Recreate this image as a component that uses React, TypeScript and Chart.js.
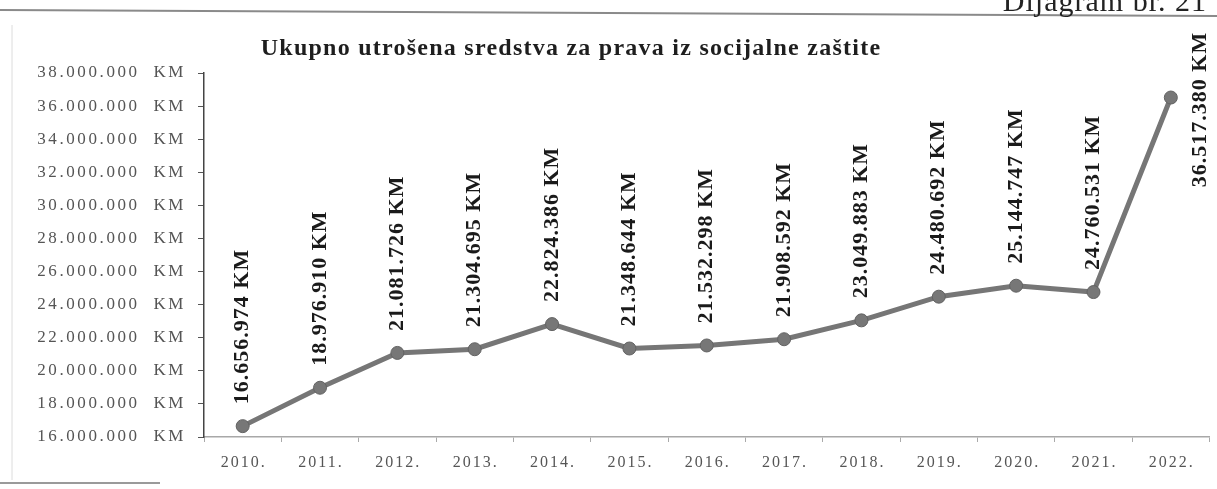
import React, { useEffect, useRef } from "react";
import { Chart, registerables } from "chart.js";

Chart.register(...registerables);

const years = ["2010.", "2011.", "2012.", "2013.", "2014.", "2015.", "2016.", "2017.", "2018.", "2019.", "2020.", "2021.", "2022."];
const amounts = [16656974, 18976910, 21081726, 21304695, 22824386, 21348644, 21532298, 21908592, 23049883, 24480692, 25144747, 24760531, 36517380];
const yTickValues = [16000000, 18000000, 20000000, 22000000, 24000000, 26000000, 28000000, 30000000, 32000000, 34000000, 36000000, 38000000];
const chartTitle = "Ukupno utrošena sredstva za prava iz socijalne zaštite";
const pageCaption = "Dijagram br. 21";
const currency = "KM";

const W = 1217;
const H = 489;

function fmt(n: number): string {
  return String(Math.round(n)).replace(/\B(?=(\d{3})+(?!\d))/g, ".");
}

const textPlugin = {
  id: "scanText",
  beforeDraw(chart: any) {
    const ctx = chart.ctx;
    ctx.save();
    ctx.fillStyle = "#ffffff";
    ctx.fillRect(0, 0, chart.width, chart.height);
    ctx.strokeStyle = "#8a8a8a";
    ctx.lineWidth = 2;
    ctx.beginPath();
    ctx.moveTo(0, 10);
    ctx.lineTo(chart.width, 16);
    ctx.stroke();
    ctx.strokeStyle = "#dcdcdc";
    ctx.lineWidth = 1;
    ctx.beginPath();
    ctx.moveTo(12, 25);
    ctx.lineTo(12, 480);
    ctx.stroke();
    ctx.strokeStyle = "#9a9a9a";
    ctx.lineWidth = 2;
    ctx.beginPath();
    ctx.moveTo(0, 483);
    ctx.lineTo(160, 483);
    ctx.stroke();
    ctx.restore();
  },
  afterDraw(chart: any) {
    const ctx = chart.ctx;
    const xs = chart.scales.x;
    const ys = chart.scales.y;
    const area = chart.chartArea;
    ctx.save();

    ctx.fillStyle = "#222";
    ctx.font = "30px 'Liberation Serif'";
    (ctx as any).letterSpacing = "1px";
    ctx.textAlign = "right";
    ctx.textBaseline = "alphabetic";
    ctx.fillText(pageCaption, chart.width - 10, 11);

    ctx.fillStyle = "#1e1e1e";
    ctx.font = "bold 24px 'Liberation Serif'";
    (ctx as any).letterSpacing = "1.25px";
    ctx.textAlign = "center";
    ctx.fillText(chartTitle, 571, 55);

    ctx.fillStyle = "#555";
    ctx.font = "17px 'Liberation Serif'";
    (ctx as any).letterSpacing = "2.6px";
    ctx.textAlign = "right";
    ctx.textBaseline = "middle";
    yTickValues.forEach((v) => {
      const y = ys.getPixelForValue(v);
      ctx.fillText(fmt(v) + "  " + currency, area.left - 18, y);
    });

    ctx.fillStyle = "#555";
    ctx.font = "16px 'Liberation Serif'";
    (ctx as any).letterSpacing = "2px";
    ctx.textAlign = "center";
    ctx.textBaseline = "middle";
    years.forEach((lab, i) => {
      const x = xs.getPixelForValue(i);
      ctx.fillText(lab, x + 1, area.bottom + 26);
    });

    ctx.fillStyle = "#1a1a1a";
    ctx.font = "bold 22px 'Liberation Serif'";
    (ctx as any).letterSpacing = "1px";
    ctx.textBaseline = "middle";
    const meta = chart.getDatasetMeta(0);
    meta.data.forEach((pt: any, i: number) => {
      const text = fmt(amounts[i]) + " " + currency;
      ctx.save();
      if (i === amounts.length - 1) {
        ctx.translate(pt.x + 29, pt.y + 12);
        ctx.rotate(-Math.PI / 2);
        ctx.textAlign = "center";
        ctx.fillText(text, 0, 0);
      } else {
        ctx.translate(pt.x, pt.y - 22);
        ctx.rotate(-Math.PI / 2);
        ctx.textAlign = "left";
        ctx.fillText(text, 0, 0);
      }
      ctx.restore();
    });
    ctx.restore();
  },
};

export default function App() {
  const ref = useRef<HTMLCanvasElement | null>(null);
  useEffect(() => {
    if (!ref.current) return;
    const chart = new Chart(ref.current, {
      type: "line",
      data: {
        labels: years,
        datasets: [
          {
            data: amounts,
            borderColor: "#767676",
            borderWidth: 5,
            pointRadius: 6.5,
            pointBackgroundColor: "#777",
            pointBorderColor: "#636363",
            pointBorderWidth: 1,
            tension: 0,
          },
        ],
      },
      options: {
        responsive: false,
        animation: false,
        layout: { padding: { top: 73, left: 0, right: 0, bottom: 0 } },
        plugins: { legend: { display: false }, tooltip: { enabled: false }, title: { display: false } },
        scales: {
          x: {
            type: "category",
            offset: true,
            afterFit(scale: any) {
              scale.height = 52;
            },
            ticks: { display: false },
            grid: { drawOnChartArea: false, drawTicks: true, tickLength: 5, color: "#aaa", offset: true },
            border: { display: true, color: "#a8a8a8", width: 1.5, dash: [6, 2] },
          },
          y: {
            min: 16000000,
            max: 38000000,
            afterBuildTicks(scale: any) {
              scale.ticks = yTickValues.map((v) => ({ value: v }));
            },
            afterFit(scale: any) {
              scale.width = 204;
            },
            ticks: { display: false },
            grid: { drawOnChartArea: false, drawTicks: true, tickLength: 6, color: "#555" },
            border: { display: true, color: "#444", width: 1.5 },
          },
        },
      },
      plugins: [textPlugin],
    });
    return () => chart.destroy();
  }, []);
  return (
    <div style={{ position: "fixed", left: 0, top: 0, width: W, height: H, overflow: "hidden", background: "#fff" }}>
      <canvas ref={ref} width={W} height={H} style={{ width: W, height: H, display: "block" }} />
    </div>
  );
}
